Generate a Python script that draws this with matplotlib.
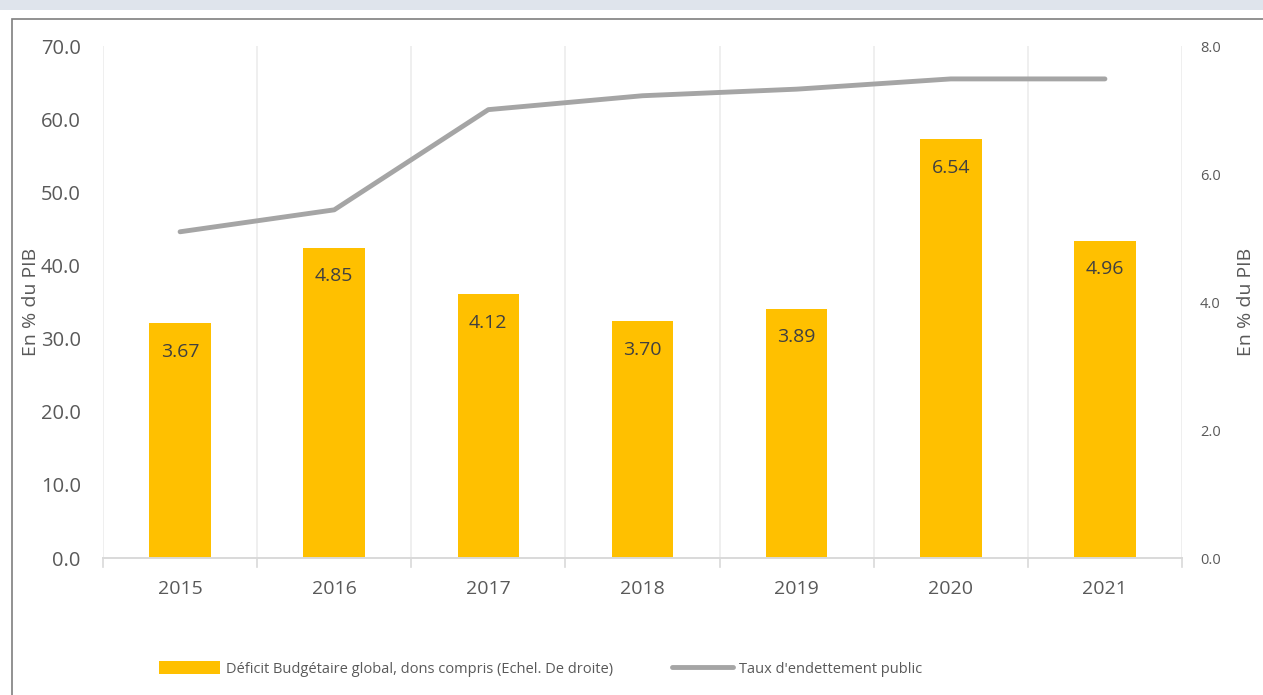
import numpy as np
import matplotlib.pyplot as plt
from matplotlib.patches import Rectangle

years = ['2015', '2016', '2017', '2018', '2019', '2020', '2021']
deficit = [3.67, 4.85, 4.12, 3.70, 3.89, 6.54, 4.96]
dette = [44.6, 47.6, 61.3, 63.2, 64.1, 65.5, 65.5]

plt.rcParams['font.family'] = ['Open Sans', 'DejaVu Sans']
txt = '#595959'

fig = plt.figure(figsize=(12.63, 6.95), dpi=100)
# top band and outer frame
fig.patches.append(Rectangle((0, 0.985), 1, 0.015, transform=fig.transFigure,
                             facecolor='#dfe4ec', edgecolor='none'))
fig.patches.append(Rectangle((12/1263, -0.01), 1.1, 0.985 - 12/695 + 0.01 + 0.005,
                             transform=fig.transFigure, facecolor='none',
                             edgecolor='#7f7f7f', lw=1.2))

ax = fig.add_axes([103/1263, 137/695, 1079/1263, 512/695])
ax2 = ax.twinx()
x = np.arange(len(years))

# line on left axis
ax.plot(x, dette, color='#a5a5a5', lw=3.5, solid_capstyle='round', zorder=3,
        label="Taux d'endettement public")
ax.set_ylim(0, 70)
ax.set_yticks(np.arange(0, 71, 10))
ax.set_yticklabels(['%.1f' % v for v in np.arange(0, 71, 10)])
ax.set_xlim(-0.5, len(years) - 0.5)
ax.set_xticks(x)
ax.set_xticklabels(years)
ax.tick_params(axis='x', length=0, labelsize=14, labelcolor=txt, pad=16)
ax.tick_params(axis='y', length=0, labelsize=14.5, labelcolor=txt, pad=16)
for b in np.arange(-0.5, len(years), 1):
    ax.axvline(b, color='#ececec', lw=1.2, zorder=0)
    ax.plot([b, b], [0, -0.018], color='#d9d9d9', lw=1.2,
            transform=ax.get_xaxis_transform(), clip_on=False)
ax.set_ylabel('En % du PIB', fontsize=14, color=txt)
ax.yaxis.set_label_coords(-0.058, 0.5)

# bars on right axis
bars = ax2.bar(x, deficit, width=0.4, color='#ffc000', zorder=2,
               label='Déficit Budgétaire global, dons compris (Echel. De droite)')
ax2.set_ylim(0, 8)
ax2.set_yticks(np.arange(0, 8.1, 2))
ax2.set_yticklabels(['%.1f' % v for v in np.arange(0, 8.1, 2)])
ax2.tick_params(axis='y', length=0, labelsize=10.5, labelcolor=txt, pad=13)
ax2.set_ylabel('En % du PIB', fontsize=14, color=txt, labelpad=12)
for xi, v in zip(x, deficit):
    ax2.annotate('%.2f' % v, (xi, v), xytext=(0, -14), textcoords='offset points',
                 ha='center', va='top', fontsize=14, color='#404040')

ax.set_zorder(ax2.get_zorder() + 1)
ax.patch.set_visible(False)

for a in (ax, ax2):
    for s in ('top', 'left', 'right'):
        a.spines[s].set_visible(False)
    a.spines['bottom'].set_color('#d9d9d9')
    a.spines['bottom'].set_linewidth(1.2)

h1, l1 = ax2.get_legend_handles_labels()
h2, l2 = ax.get_legend_handles_labels()
fig.legend(h1 + h2, l1 + l2, loc='center left', bbox_to_anchor=(146/1263, 26/695),
           ncol=2, frameon=False, fontsize=10.5, labelcolor=txt,
           handlelength=4.2, handleheight=0.9, handletextpad=0.4, columnspacing=4.0)

fig.savefig('out.png', dpi=100)
